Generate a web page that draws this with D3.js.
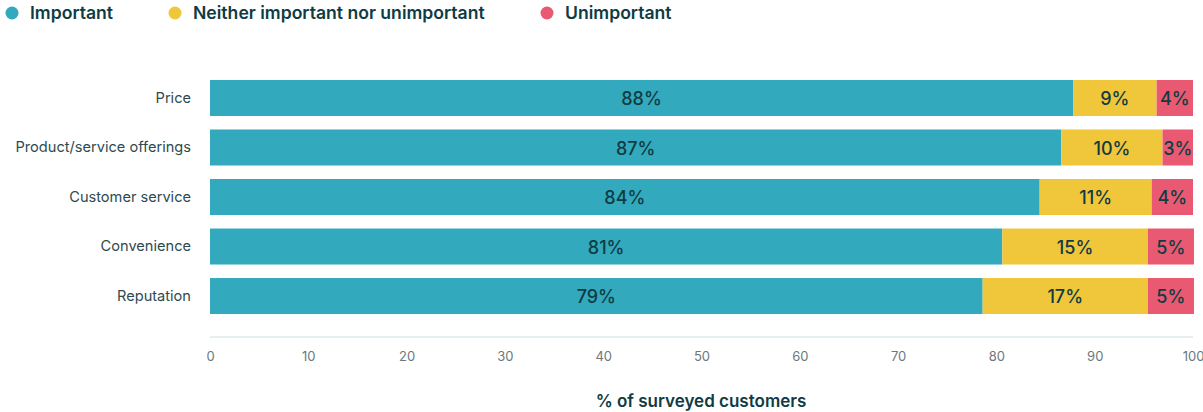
<!DOCTYPE html>
<html lang="en">
  <head>
    <meta charset="UTF-8" />
    <title>Importance of factors</title>
    <script src="https://d3js.org/d3.v7.min.js"></script>
    <style>
      body {
        margin: 0;
        background: #fff;
      }
      svg {
        display: block;
        font-family: Inter, "Noto Sans", sans-serif;
      }
    </style>
  </head>
  <body>
    <div id="chart"></div>
    <script>
      const categories = [
        "Price",
        "Product/service offerings",
        "Customer service",
        "Convenience",
        "Reputation",
      ];
      const seriesNames = [
        "Important",
        "Neither important nor unimportant",
        "Unimportant",
      ];
      const important = [87.8, 86.6, 84.4, 80.6, 78.6];
      const neither = [8.5, 10.3, 11.4, 14.8, 16.8];
      const unimportant = [3.7, 3.1, 4.2, 4.7, 4.7];
      const xTicks = [0, 10, 20, 30, 40, 50, 60, 70, 80, 90, 100];
      const colors = ["#32a9bd", "#f0c63b", "#e95a72"];

      const width = 1203;
      const height = 412;

      const rows = categories.map((c, i) => ({
        category: c,
        Important: important[i],
        "Neither important nor unimportant": neither[i],
        Unimportant: unimportant[i],
      }));

      const stacked = d3.stack().keys(seriesNames)(rows);

      const svg = d3
        .select("#chart")
        .append("svg")
        .attr("width", width)
        .attr("height", height);

      const x = d3.scaleLinear().domain([0, 100]).range([210, 1193]);
      const y = d3
        .scaleBand()
        .domain(categories)
        .range([73.25, 320.75])
        .paddingInner(0.273)
        .paddingOuter(0.136);

      const color = d3.scaleOrdinal().domain(seriesNames).range(colors);

      // legend
      const legendX = [12, 175, 547];
      const legend = svg
        .append("g")
        .selectAll("g")
        .data(seriesNames)
        .join("g")
        .attr("transform", (d, i) => `translate(${legendX[i]},13)`);
      legend
        .append("circle")
        .attr("r", 6.5)
        .attr("fill", (d) => color(d));
      legend
        .append("text")
        .attr("x", 18)
        .attr("dy", "0.35em")
        .attr("fill", "#0f3b43")
        .style("font-size", "17.6px")
        .style("font-weight", 600)
        .text((d) => d);

      // axis baseline
      svg
        .append("line")
        .attr("x1", x(0))
        .attr("x2", x(100))
        .attr("y1", 337)
        .attr("y2", 337)
        .attr("stroke", "#e6eef1")
        .attr("stroke-width", 2);

      // x axis tick labels
      const xAxis = svg
        .append("g")
        .attr("transform", "translate(0,352)")
        .call(d3.axisBottom(x).tickValues(xTicks).tickSize(0).tickPadding(0));
      xAxis.select(".domain").remove();
      xAxis
        .selectAll("text")
        .attr("fill", "#6b787e")
        .style("font-size", "13px")
        .style("font-family", "Inter, sans-serif");

      // y axis labels
      const yAxis = svg
        .append("g")
        .attr("transform", "translate(191,0)")
        .call(d3.axisLeft(y).tickSize(0).tickPadding(0));
      yAxis.select(".domain").remove();
      yAxis
        .selectAll("text")
        .attr("fill", "#2e4a51")
        .style("font-size", "14.6px")
        .style("font-family", "Inter, sans-serif");

      // bars
      const layers = svg
        .append("g")
        .selectAll("g")
        .data(stacked)
        .join("g")
        .attr("fill", (d) => color(d.key));

      layers
        .selectAll("rect")
        .data((d) => d)
        .join("rect")
        .attr("x", (d) => x(d[0]))
        .attr("y", (d) => y(d.data.category))
        .attr("width", (d) => x(d[1]) - x(d[0]))
        .attr("height", y.bandwidth());

      layers
        .selectAll("text")
        .data((d) => d)
        .join("text")
        .attr("x", (d) => (x(d[0]) + x(d[1])) / 2)
        .attr("y", (d) => y(d.data.category) + y.bandwidth() / 2 + 1)
        .attr("dy", "0.35em")
        .attr("text-anchor", "middle")
        .attr("fill", "#0f3b43")
        .style("font-size", "18px")
        .style("font-weight", 500)
        .text((d) => Math.round(d[1] - d[0]) + "%");

      // axis title
      svg
        .append("text")
        .attr("x", 701)
        .attr("y", 401)
        .attr("dy", "0.35em")
        .attr("text-anchor", "middle")
        .attr("fill", "#0f3b43")
        .style("font-size", "17px")
        .style("font-weight", 600)
        .text("% of surveyed customers");
    </script>
  </body>
</html>
